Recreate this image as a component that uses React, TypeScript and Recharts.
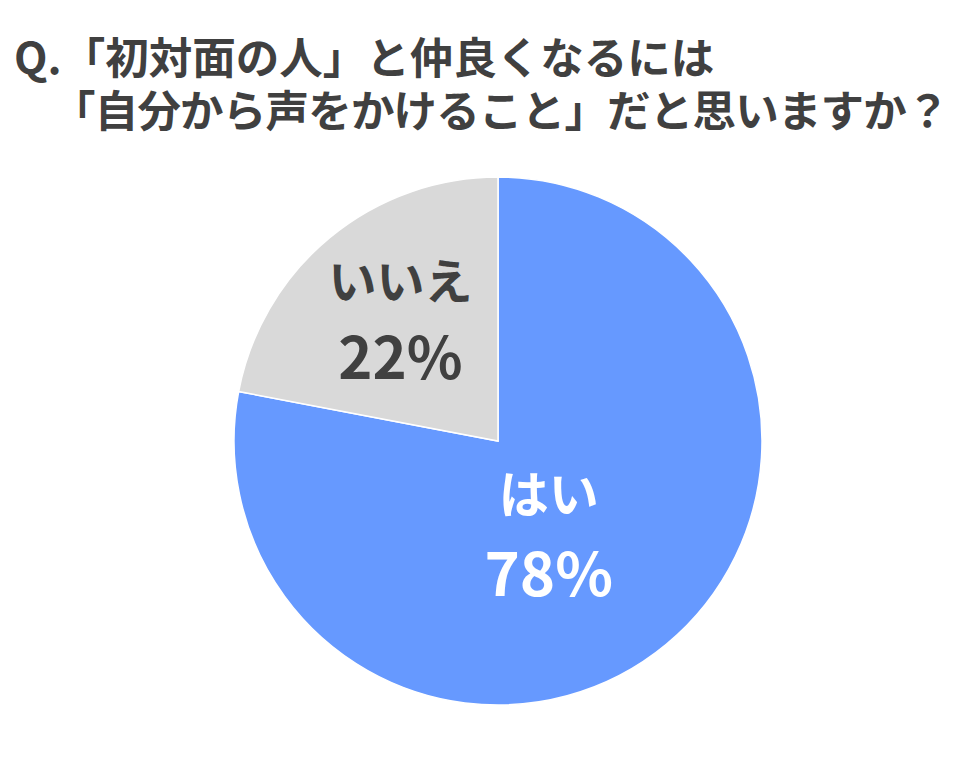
import { PieChart, Pie, Cell } from "recharts";

const answers = ["はい", "いいえ"];
const shares = [78, 22];
const sliceColors = ["#6699FF", "#D9D9D9"];
const labelColors = ["#FFFFFF", "#404040"];
const titleLines = ["Q.「初対面の人」と仲良くなるには", "「自分から声をかけること」だと思いますか？"];

const chartData = answers.map((name, i) => ({ name, value: shares[i] }));

const FONT = '"Noto Sans CJK JP", "Noto Sans", sans-serif';
const RADIAN = Math.PI / 180;

const renderLabel = (props: any) => {
  const { cx, cy, midAngle, outerRadius, index, name, value } = props;
  const k = index === 0 ? 0.42 : 0.58;
  const r = outerRadius * k;
  const x = cx + r * Math.cos(-midAngle * RADIAN) - (index === 0 ? 20 : 0);
  const y = cy + r * Math.sin(-midAngle * RADIAN) + (index === 0 ? 12 : 0);
  const size = index === 0 ? 50 : 48;
  const pctSize = index === 0 ? 60 : 58;
  return (
    <text
      x={x}
      y={y}
      fill={labelColors[index]}
      textAnchor="middle"
      fontFamily={FONT}
      fontWeight="bold"
    >
      <tspan x={x} dy={-size * 0.5} fontSize={size}>{name}</tspan>
      <tspan x={x} dy={size * 1.66} fontSize={pctSize}>{value}%</tspan>
    </text>
  );
};

const titleStyle: any = {
  position: "absolute",
  fontFamily: FONT,
  fontWeight: "bold",
  fontSize: 43.5,
  lineHeight: "50px",
  height: 50,
  color: "#404040",
  whiteSpace: "nowrap",
};

export default function App() {
  return (
    <div style={{ position: "absolute", left: 0, top: 0, width: 960, height: 758, background: "#fff" }}>
      <div style={{ ...titleStyle, left: 14, top: 31 }}>{titleLines[0]}</div>
      <div style={{ ...titleStyle, left: 52, top: 84, letterSpacing: -0.8 }}>{titleLines[1]}</div>
      <PieChart width={960} height={758} style={{ position: "absolute", left: 0, top: 0 }}>
        <Pie
          data={chartData}
          dataKey="value"
          cx={493}
          cy={436}
          outerRadius={264}
          startAngle={90}
          endAngle={-270}
          stroke="#FFFFFF"
          strokeWidth={1.5}
          label={renderLabel}
          labelLine={false}
          isAnimationActive={false}
        >
          {chartData.map((entry, index) => (
            <Cell key={`cell-${index}`} fill={sliceColors[index]} />
          ))}
        </Pie>
      </PieChart>
    </div>
  );
}
